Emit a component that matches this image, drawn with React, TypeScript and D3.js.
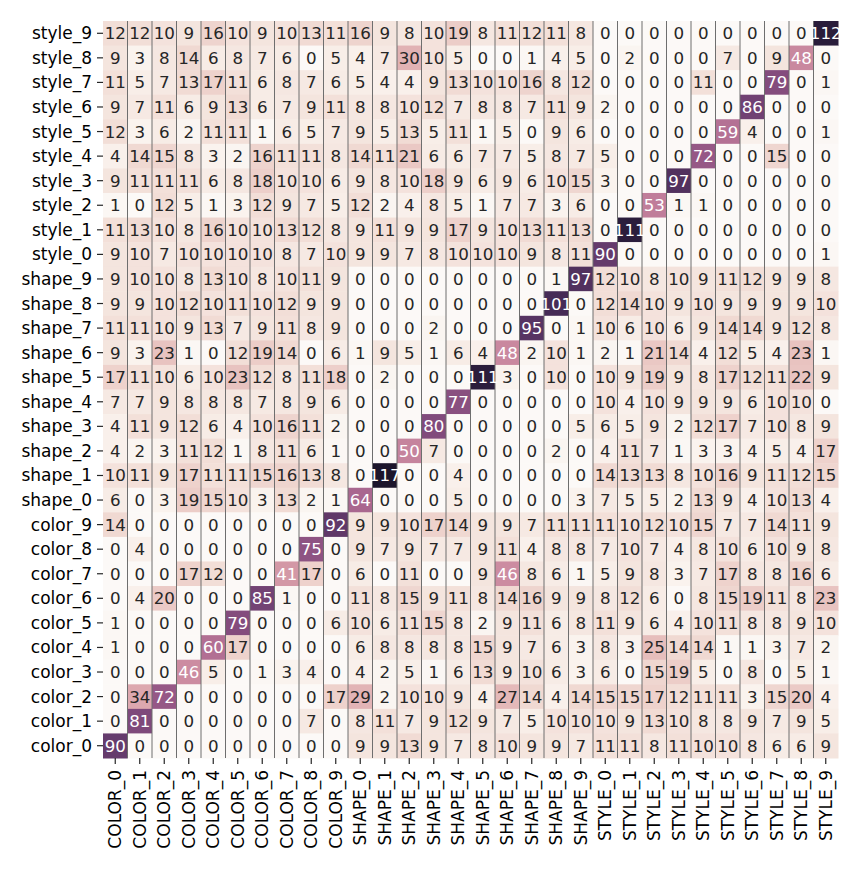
import React from "react";
import * as d3 from "d3";

const rowLabels = [
  "style_9", "style_8", "style_7", "style_6", "style_5", "style_4", "style_3", "style_2", "style_1", "style_0",
  "shape_9", "shape_8", "shape_7", "shape_6", "shape_5", "shape_4", "shape_3", "shape_2", "shape_1", "shape_0",
  "color_9", "color_8", "color_7", "color_6", "color_5", "color_4", "color_3", "color_2", "color_1", "color_0",
];

const colLabels = [
  "COLOR_0", "COLOR_1", "COLOR_2", "COLOR_3", "COLOR_4", "COLOR_5", "COLOR_6", "COLOR_7", "COLOR_8", "COLOR_9",
  "SHAPE_0", "SHAPE_1", "SHAPE_2", "SHAPE_3", "SHAPE_4", "SHAPE_5", "SHAPE_6", "SHAPE_7", "SHAPE_8", "SHAPE_9",
  "STYLE_0", "STYLE_1", "STYLE_2", "STYLE_3", "STYLE_4", "STYLE_5", "STYLE_6", "STYLE_7", "STYLE_8", "STYLE_9",
];

const styleRows = [
  [12, 12, 10, 9, 16, 10, 9, 10, 13, 11, 16, 9, 8, 10, 19, 8, 11, 12, 11, 8, 0, 0, 0, 0, 0, 0, 0, 0, 0, 112],
  [9, 3, 8, 14, 6, 8, 7, 6, 0, 5, 4, 7, 30, 10, 5, 0, 0, 1, 4, 5, 0, 2, 0, 0, 0, 7, 0, 9, 48, 0],
  [11, 5, 7, 13, 17, 11, 6, 8, 7, 6, 5, 4, 4, 9, 13, 10, 10, 16, 8, 12, 0, 0, 0, 0, 11, 0, 0, 79, 0, 1],
  [9, 7, 11, 6, 9, 13, 6, 7, 9, 11, 8, 8, 10, 12, 7, 8, 8, 7, 11, 9, 2, 0, 0, 0, 0, 0, 86, 0, 0, 0],
  [12, 3, 6, 2, 11, 11, 1, 6, 5, 7, 9, 5, 13, 5, 11, 1, 5, 0, 9, 6, 0, 0, 0, 0, 0, 59, 4, 0, 0, 1],
  [4, 14, 15, 8, 3, 2, 16, 11, 11, 8, 14, 11, 21, 6, 6, 7, 7, 5, 8, 7, 5, 0, 0, 0, 72, 0, 0, 15, 0, 0],
  [9, 11, 11, 11, 6, 8, 18, 10, 10, 6, 9, 8, 10, 18, 9, 6, 9, 6, 10, 15, 3, 0, 0, 97, 0, 0, 0, 0, 0, 0],
  [1, 0, 12, 5, 1, 3, 12, 9, 7, 5, 12, 2, 4, 8, 5, 1, 7, 7, 3, 6, 0, 0, 53, 1, 1, 0, 0, 0, 0, 0],
  [11, 13, 10, 8, 16, 10, 10, 13, 12, 8, 9, 11, 9, 9, 17, 9, 10, 13, 11, 13, 0, 111, 0, 0, 0, 0, 0, 0, 0, 0],
  [9, 10, 7, 10, 10, 10, 10, 8, 7, 10, 9, 9, 7, 8, 10, 10, 10, 9, 8, 11, 90, 0, 0, 0, 0, 0, 0, 0, 0, 1],
];

const shapeRows = [
  [9, 10, 10, 8, 13, 10, 8, 10, 11, 9, 0, 0, 0, 0, 0, 0, 0, 0, 1, 97, 12, 10, 8, 10, 9, 11, 12, 9, 9, 8],
  [9, 9, 10, 12, 10, 11, 10, 12, 9, 9, 0, 0, 0, 0, 0, 0, 0, 0, 101, 0, 12, 14, 10, 9, 10, 9, 9, 9, 9, 10],
  [11, 11, 10, 9, 13, 7, 9, 11, 8, 9, 0, 0, 0, 2, 0, 0, 0, 95, 0, 1, 10, 6, 10, 6, 9, 14, 14, 9, 12, 8],
  [9, 3, 23, 1, 0, 12, 19, 14, 0, 6, 1, 9, 5, 1, 6, 4, 48, 2, 10, 1, 2, 1, 21, 14, 4, 12, 5, 4, 23, 1],
  [17, 11, 10, 6, 10, 23, 12, 8, 11, 18, 0, 2, 0, 0, 0, 111, 3, 0, 10, 0, 10, 9, 19, 9, 8, 17, 12, 11, 22, 9],
  [7, 7, 9, 8, 8, 8, 7, 8, 9, 6, 0, 0, 0, 0, 77, 0, 0, 0, 0, 0, 10, 4, 10, 9, 9, 9, 6, 10, 10, 0],
  [4, 11, 9, 12, 6, 4, 10, 16, 11, 2, 0, 0, 0, 80, 0, 0, 0, 0, 0, 5, 6, 5, 9, 2, 12, 17, 7, 10, 8, 9],
  [4, 2, 3, 11, 12, 1, 8, 11, 6, 1, 0, 0, 50, 7, 0, 0, 0, 0, 2, 0, 4, 11, 7, 1, 3, 3, 4, 5, 4, 17],
  [10, 11, 9, 17, 11, 11, 15, 16, 13, 8, 0, 117, 0, 0, 4, 0, 0, 0, 0, 0, 14, 13, 13, 8, 10, 16, 9, 11, 12, 15],
  [6, 0, 3, 19, 15, 10, 3, 13, 2, 1, 64, 0, 0, 0, 5, 0, 0, 0, 0, 3, 7, 5, 5, 2, 13, 9, 4, 10, 13, 4],
];

const colorRows = [
  [14, 0, 0, 0, 0, 0, 0, 0, 0, 92, 9, 9, 10, 17, 14, 9, 9, 7, 11, 11, 11, 10, 12, 10, 15, 7, 7, 14, 11, 9],
  [0, 4, 0, 0, 0, 0, 0, 0, 75, 0, 9, 7, 9, 7, 7, 9, 11, 4, 8, 8, 7, 10, 7, 4, 8, 10, 6, 10, 9, 8],
  [0, 0, 0, 17, 12, 0, 0, 41, 17, 0, 6, 0, 11, 0, 0, 9, 46, 8, 6, 1, 5, 9, 8, 3, 7, 17, 8, 8, 16, 6],
  [0, 4, 20, 0, 0, 0, 85, 1, 0, 0, 11, 8, 15, 9, 11, 8, 14, 16, 9, 9, 8, 12, 6, 0, 8, 15, 19, 11, 8, 23],
  [1, 0, 0, 0, 0, 79, 0, 0, 0, 6, 10, 6, 11, 15, 8, 2, 9, 11, 6, 8, 11, 9, 6, 4, 10, 11, 8, 8, 9, 10],
  [1, 0, 0, 0, 60, 17, 0, 0, 0, 0, 6, 8, 8, 8, 8, 15, 9, 7, 6, 3, 8, 3, 25, 14, 14, 1, 1, 3, 7, 2],
  [0, 0, 0, 46, 5, 0, 1, 3, 4, 0, 4, 2, 5, 1, 6, 13, 9, 10, 6, 3, 6, 0, 15, 19, 5, 0, 8, 0, 5, 1],
  [0, 34, 72, 0, 0, 0, 0, 0, 0, 17, 29, 2, 10, 10, 9, 4, 27, 14, 4, 14, 15, 15, 17, 12, 11, 11, 3, 15, 20, 4],
  [0, 81, 0, 0, 0, 0, 0, 0, 7, 0, 8, 11, 7, 9, 12, 9, 7, 5, 10, 10, 10, 9, 13, 10, 8, 8, 9, 7, 9, 5],
  [90, 0, 0, 0, 0, 0, 0, 0, 0, 0, 9, 9, 13, 9, 7, 8, 10, 9, 9, 7, 11, 11, 8, 11, 10, 10, 8, 6, 6, 9],
];

const matrix = [...styleRows, ...shapeRows, ...colorRows];

// seaborn-like cubehelix palette
const LIGHT = 0.98;
const DARK = 0.1;
function cubehelix(x: number): [number, number, number] {
  const start = 0, rot = 0.4, hue = 0.8, gamma = 1;
  const xg = Math.pow(x, gamma);
  const a = (hue * xg * (1 - xg)) / 2;
  const phi = 2 * Math.PI * (start / 3 + rot * x);
  const c = Math.cos(phi), s = Math.sin(phi);
  const cl = (v: number) => Math.max(0, Math.min(1, v));
  return [
    cl(xg + a * (-0.14861 * c + 1.78277 * s)),
    cl(xg + a * (-0.29227 * c - 0.90649 * s)),
    cl(xg + a * (1.97294 * c)),
  ];
}

function lum(rgb: [number, number, number]) {
  const lin = rgb.map((c) => (c <= 0.03928 ? c / 12.92 : Math.pow((c + 0.055) / 1.055, 2.4)));
  return 0.2126 * lin[0] + 0.7152 * lin[1] + 0.0722 * lin[2];
}

export default function App() {
  const W = 864, H = 873;
  const left = 103, right = 838, top = 21, bottom = 758;
  const x = d3.scaleBand<string>().domain(colLabels).range([left, right]).padding(0);
  const y = d3.scaleBand<string>().domain(rowLabels).range([top, bottom]).padding(0);
  const vmax = d3.max(matrix.flat()) as number;
  const norm = d3.scaleLinear().domain([0, vmax]).range([LIGHT, DARK]).clamp(true);
  const font = "'DejaVu Sans', sans-serif";

  const cells: React.ReactNode[] = [];
  const texts: React.ReactNode[] = [];
  matrix.forEach((row, i) => {
    row.forEach((v, j) => {
      const rgb = cubehelix(norm(v));
      const fill = d3.rgb(rgb[0] * 255, rgb[1] * 255, rgb[2] * 255).formatHex();
      const tc = lum(rgb) <= 0.408 ? "#ffffff" : "#262626";
      const cx = x(colLabels[j]) as number;
      const cy = y(rowLabels[i]) as number;
      cells.push(
        <rect key={`c${i}-${j}`} x={cx} y={cy} width={x.bandwidth() + 0.5} height={y.bandwidth() + 0.5} fill={fill} />
      );
      texts.push(
        <text
          key={`t${i}-${j}`}
          x={cx + x.bandwidth() / 2}
          y={cy + y.bandwidth() / 2}
          textAnchor="middle"
          dominantBaseline="central"
          fontSize={16.7}
          fontFamily={font}
          fill={tc}
        >
          {v}
        </text>
      );
    });
  });

  const vlines = colLabels.slice(1).map((c) => (
    <line key={`v${c}`} x1={x(c) as number} x2={x(c) as number} y1={top} y2={bottom} stroke="#6e6e6e" strokeWidth={1} />
  ));

  return (
    <svg width={W} height={H} style={{ position: "absolute", left: 0, top: 0, background: "#fff" }}>
      <rect x={0} y={0} width={W} height={H} fill="#fff" />
      {cells}
      {vlines}
      {texts}
      {rowLabels.map((r) => {
        const cy = (y(r) as number) + y.bandwidth() / 2;
        return (
          <g key={`yl${r}`}>
            <line x1={left - 6} x2={left} y1={cy} y2={cy} stroke="#262626" strokeWidth={1.2} />
            <text x={left - 11} y={cy} textAnchor="end" dominantBaseline="central" fontSize={17} fontFamily={font} fill="#000">
              {r}
            </text>
          </g>
        );
      })}
      {colLabels.map((c) => {
        const cx = (x(c) as number) + x.bandwidth() / 2;
        return (
          <g key={`xl${c}`}>
            <line x1={cx} x2={cx} y1={bottom} y2={bottom + 6} stroke="#262626" strokeWidth={1.2} />
            <text
              transform={`translate(${cx},${bottom + 12}) rotate(-90)`}
              textAnchor="end"
              dominantBaseline="central"
              fontSize={17}
              fontFamily={font}
              fill="#000"
            >
              {c}
            </text>
          </g>
        );
      })}
    </svg>
  );
}
